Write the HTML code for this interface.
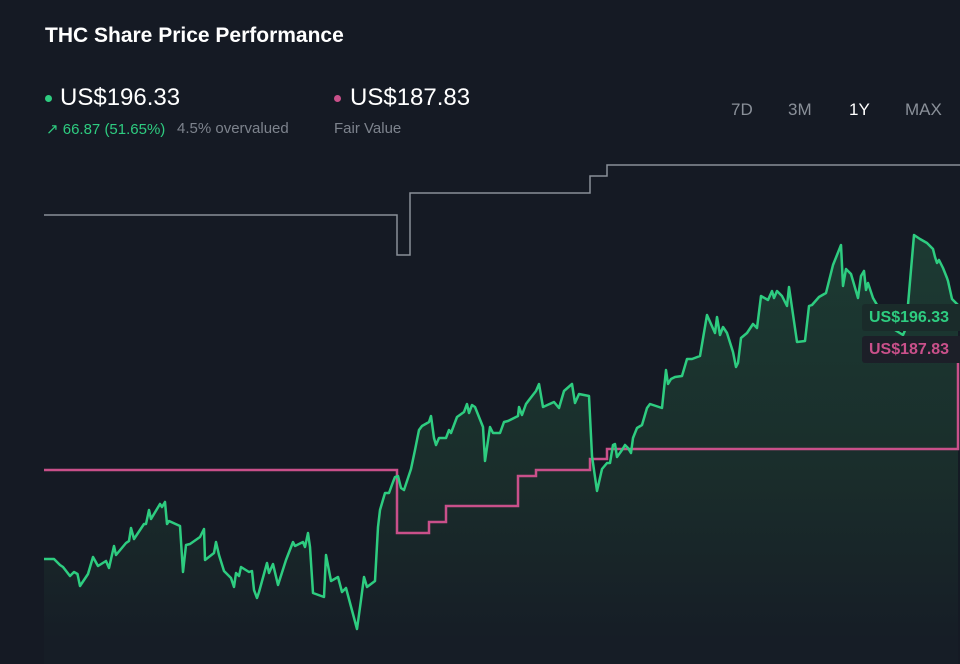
<!DOCTYPE html>
<html><head><meta charset="utf-8">
<style>
body{margin:0;width:960px;height:664px;background:#151a24;overflow:hidden;font-family:"Liberation Sans",sans-serif;position:relative}
.t{position:absolute;white-space:nowrap}
</style></head><body>
<div class="t" style="left:45px;top:24px;font-size:21px;font-weight:bold;color:#fff">THC Share Price Performance</div>
<div class="t" style="left:45px;top:95px;width:7px;height:7px;border-radius:50%;background:#2ecc80"></div>
<div class="t" style="left:60px;top:84px;font-size:24px;color:#fff">US$196.33</div>
<div class="t" style="left:46px;top:120px;font-size:15px;color:#2ecc80">↗ 66.87 (51.65%)</div>
<div class="t" style="left:177px;top:120px;font-size:15px;color:#7d838d">4.5% overvalued</div>
<div class="t" style="left:334px;top:95px;width:7px;height:7px;border-radius:50%;background:#c9508a"></div>
<div class="t" style="left:350px;top:84px;font-size:24px;color:#fff">US$187.83</div>
<div class="t" style="left:334px;top:120px;font-size:15px;color:#7d838d">Fair Value</div>
<div class="t" style="left:731px;top:100px;font-size:17px;color:#8a9099">7D</div>
<div class="t" style="left:788px;top:100px;font-size:17px;color:#8a9099">3M</div>
<div class="t" style="left:849px;top:100px;font-size:17px;color:#fff">1Y</div>
<div class="t" style="left:905px;top:100px;font-size:17px;color:#8a9099">MAX</div>
<svg id="c" width="960" height="664" style="position:absolute;left:0;top:0">
<defs><linearGradient id="g" gradientUnits="userSpaceOnUse" x1="0" y1="230" x2="0" y2="640"><stop offset="0" stop-color="#1c3b33"/><stop offset="0.6" stop-color="#1a2d2b"/><stop offset="1" stop-color="#161d26"/></linearGradient></defs>
</svg>
<div class="t" style="left:862px;top:304px;width:100px;height:27px;background:#1a2b2a;border-radius:3px;color:#2ecc80;font-size:16px;font-weight:bold;line-height:27px;padding-left:7px">US$196.33</div>
<div class="t" style="left:862px;top:336px;width:100px;height:27px;background:#1c1f28;border-radius:3px;color:#c9508a;font-size:16px;font-weight:bold;line-height:27px;padding-left:7px">US$187.83</div>
<script>
const priceT=[0,10,16,19,26,30,33.5,36,44,49,54,62,65,70,72,82,85,87,90,100,102,105,107,116,118,121,123,125,136,139,142,146,156,160,161,170,172,175,180,187,190,192,195,197,205,208,210,213,215,223,225,229,234,242,249,251,259,261,264,266,269,280,282,287,294,298,302,313,317,320,323,331,334,336,341,345,349,351,354,357,360,367,371,375,378,385,387,390,392,395,402,405,407,413,420,423,425,428,431,439,441,446,449,456,460,464,474,475,478,482,485,492,495,499,510,515,520,528,531,535,545,548,553,558,563,566,569,571,573,578,581,584,587,589,593,598,603,606,618,622,624,627,631,638,643,648,656,663,671,673,676,679,683,689,692,694,697,703,709,713,717,724,728,730,733,738,743,745,753,761,765,768,775,782,789,797,799,802,807,814,817,820,822,824,829,836,844,851,859,862,870,876,883,889,891,893,895,899,903,904,908,914];
const priceV=[140.25,140.25,138.75,138.25,136,137,136.5,133.5,136.5,140.75,138.5,139.75,138,143.5,141.25,144.25,144.75,148,145.25,149,149,152.5,150.25,154,153.25,154.5,149,149.75,148.5,137,143.75,144,145.75,147.75,140,141.75,144.5,141.25,137.25,135.5,133.25,136.75,136,138.25,137,137.25,132.5,130.5,132,139.25,136.75,139,133.75,140,144.5,143.5,144.5,143.25,146.75,143.25,131.75,130.75,141.25,134.75,135.75,132,133,122.75,130,135.75,133.25,134.75,148.25,152.5,156.75,156.75,159.5,160.75,161,158,157.5,162.75,167.5,172.5,173.5,174.5,176,170.5,168.75,170.5,170.5,172.5,171.75,175.75,177,179,176.75,178.75,178.25,173.25,164.75,173.25,171.75,171.75,174.5,174.75,176,178.25,176.25,179,180,182.25,184,178.25,179.5,178,182.25,184,179.25,181.5,181,166,157.25,162.75,164.25,164.25,168.75,169,165.75,167.5,168.75,168,166.75,170.5,173,173.75,178,179,178,187.5,184,185.25,185.75,186,190.25,190.25,191,201.25,196.75,200.75,196.25,198.25,196.75,192,188.25,189.25,195.5,196.75,199,198,206,205,207.25,205.5,207.25,206,203.5,208.25,194.5,194.75,203.5,203.75,205.75,206.75,213.75,218.75,208.5,212.75,211.5,205.5,211,212.25,207.5,209.25,205.5,202.5,199.5,197.5,196.25,198,221.25,220.25,219.25,217.75,215.75,214.25,215,213,210.5,209.75,205.25,203.75];
const fairT=[0,353,385,402,474,492,546,563,914];
const fairV=[162.5,146.75,149.5,153.5,161,162.5,165.25,167.75,191.5];
const targetT=[0,353,366,546,563,914];
const targetV=[226.25,216.25,231.75,236,238.75,238.75];
const xs=t=>44+t*(914/914);
const ys=v=>640-(v-120)*4;
const svg=document.getElementById('c');const NS='http://www.w3.org/2000/svg';
function step(T,V,last){let d='M'+xs(T[0])+' '+ys(V[0]);for(let i=1;i<T.length;i++){d+=' H'+xs(T[i])+' V'+ys(V[i]);}if(last)d+=' H'+xs(last);return d;}
const n=Math.min(priceT.length,priceV.length);
const pts=[];
for(let i=0;i<n;i++){const X=xs(priceT[i]),Y=ys(priceV[i]);if(isFinite(X)&&isFinite(Y))pts.push([X,Y]);}
const line='M'+pts.map(p=>p[0]+' '+p[1]).join(' L');
const areaD=line+' L'+pts[pts.length-1][0]+' 664 L'+pts[0][0]+' 664 Z';
const area=document.createElementNS(NS,'path');


area.setAttribute('d',areaD);area.setAttribute('fill','url(#g)');svg.appendChild(area);
const tg=document.createElementNS(NS,'path');


tg.setAttribute('d',step(targetT,targetV,960));tg.setAttribute('fill','none');tg.setAttribute('stroke','#8a8f98');tg.setAttribute('stroke-width','1.5');svg.appendChild(tg);
const fv=document.createElementNS(NS,'path');


fv.setAttribute('d',step(fairT,fairV));fv.setAttribute('fill','none');fv.setAttribute('stroke','#c9508a');fv.setAttribute('stroke-width','2.5');svg.appendChild(fv);
const pl=document.createElementNS(NS,'path');


pl.setAttribute('d',line);pl.setAttribute('fill','none');pl.setAttribute('stroke','#2ecc80');pl.setAttribute('stroke-width','2.5');pl.setAttribute('stroke-linejoin','round');svg.appendChild(pl);
</script>
</body></html>
